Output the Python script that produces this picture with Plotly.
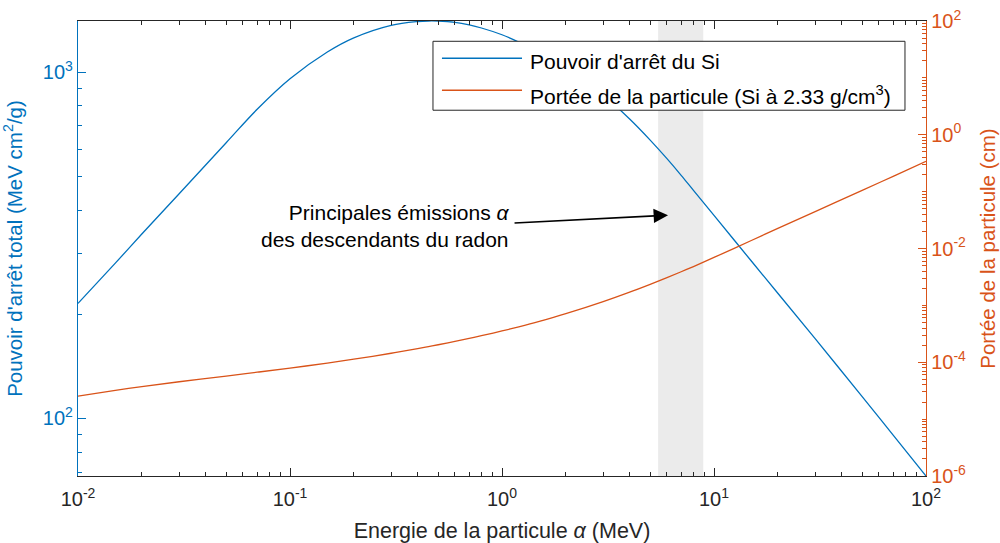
import plotly.graph_objects as go
import numpy as np

# ---------------- data ----------------
energy_mev = [0.01, 0.015, 0.02, 0.03, 0.05, 0.07, 0.1, 0.15, 0.2, 0.3, 0.4, 0.45, 0.5,
              0.6, 0.7, 0.8, 1.0, 1.2, 1.5, 2.0, 3.0, 4.0, 5.0, 6.0, 7.0, 8.0,
              10, 15, 20, 30, 50, 70, 100]
stopping_power = [215, 281, 341, 446, 626, 782, 958, 1145, 1258, 1367, 1402, 1407, 1406,
                  1394, 1371, 1343, 1284, 1223, 1141, 1026, 858, 733, 637, 563, 504, 456,
                  386, 285, 230, 170, 115.6, 89.5, 68.2]
range_cm = [2.54e-5, 3.21e-5, 3.73e-5, 4.54e-5, 5.72e-5, 6.68e-5, 7.90e-5, 9.66e-5, 1.131e-4, 1.439e-4,
            1.736e-4, 1.882e-4, 2.032e-4, 2.328e-4, 2.628e-4, 2.931e-4, 3.548e-4, 4.19e-4, 5.22e-4,
            7.13e-4, 1.163e-3, 1.707e-3, 2.346e-3, 3.075e-3, 3.90e-3, 4.82e-3, 6.96e-3, 1.383e-2,
            2.251e-2, 4.455e-2, 0.105, 0.186, 0.34]
radon_band_mev = [5.45, 8.9]

x_ticks = [1e-2, 1e-1, 1e0, 1e1, 1e2]
x_ticktext = ["10<sup>-2</sup>", "10<sup>-1</sup>", "10<sup>0</sup>", "10<sup>1</sup>", "10<sup>2</sup>"]
yl_ticks = [1e2, 1e3]
yl_ticktext = ["10<sup>2</sup>", "10<sup>3</sup>"]
yr_ticks = [1e-6, 1e-4, 1e-2, 1e0, 1e2]
yr_ticktext = ["10<sup>-6</sup>", "10<sup>-4</sup>", "10<sup>-2</sup>", "10<sup>0</sup>", "10<sup>2</sup>"]

series_names = ["Pouvoir d'arrêt du Si", "Portée de la particule (Si à 2.33 g/cm<sup>3</sup>)"]

BLUE = "#0072BD"
ORANGE = "#D95319"
DARK = "#262626"
FONT = "Liberation Sans, Arial, Helvetica, sans-serif"


def minor_vals(lo, hi, skip):
    vals = []
    for n in range(lo, hi):
        for k in range(1, 10):
            v = k * 10.0 ** n
            if not any(abs(v - s) / s < 1e-9 for s in skip):
                vals.append(v)
    return vals


fig = go.Figure()
fig.add_trace(go.Scatter(x=energy_mev, y=stopping_power, mode="lines",
                         line=dict(color=BLUE, width=1.3, shape="spline", smoothing=1.0),
                         name=series_names[0], yaxis="y", showlegend=False))
fig.add_trace(go.Scatter(x=energy_mev, y=range_cm, mode="lines",
                         line=dict(color=ORANGE, width=1.3, shape="spline", smoothing=1.0),
                         name=series_names[1], yaxis="y2", showlegend=False))

# grey band (radon progeny alpha emissions)
fig.add_shape(type="rect", xref="x", yref="paper", x0=radon_band_mev[0], x1=radon_band_mev[1],
              y0=0, y1=1, fillcolor="rgb(235,235,235)", line=dict(width=0), layer="below")

# legend box (drawn manually to mimic MATLAB legend)
fig.add_shape(type="rect", xref="paper", yref="paper", x0=0.4186, x1=0.9752, y0=0.8039, y1=0.9554,
              fillcolor="white", line=dict(color=DARK, width=1), layer="above")
fig.add_shape(type="line", xref="paper", yref="paper", x0=0.4292, x1=0.5236, y0=0.9181, y1=0.9181,
              line=dict(color=BLUE, width=1.3), layer="above")
fig.add_shape(type="line", xref="paper", yref="paper", x0=0.4292, x1=0.5236, y0=0.8478, y1=0.8478,
              line=dict(color=ORANGE, width=1.3), layer="above")
fig.add_annotation(xref="paper", yref="paper", x=0.5307, y=0.9115, text=series_names[0],
                   showarrow=False, xanchor="left", yanchor="middle",
                   font=dict(family=FONT, size=21, color="black"))
fig.add_annotation(xref="paper", yref="paper", x=0.5307, y=0.8379, text=series_names[1],
                   showarrow=False, xanchor="left", yanchor="middle",
                   font=dict(family=FONT, size=21, color="black"))

# text + arrow
fig.add_annotation(xref="paper", yref="paper", x=0.5118, y=0.5502,
                   text="Principales émissions <i>α</i><br>des descendants du radon",
                   showarrow=False, xanchor="right", yanchor="middle", align="right",
                   font=dict(family=FONT, size=21, color="black"))
fig.add_annotation(xref="paper", yref="paper", x=0.6958, y=0.5733, text="",
                   showarrow=True, ax=-155, ay=8, axref="pixel", ayref="pixel",
                   arrowhead=2, arrowsize=1.8, arrowwidth=1.6, arrowcolor="black")

s_log = np.log10(stopping_power)

fig.update_layout(
    width=1000, height=543,
    margin=dict(l=78, r=74, t=21, b=67, autoexpand=False),
    paper_bgcolor="white", plot_bgcolor="white",
    font=dict(family=FONT, size=20, color=DARK),
    xaxis=dict(type="log", range=[-2, 2], tickmode="array", tickvals=x_ticks, ticktext=x_ticktext,
               ticks="inside", ticklen=8, tickwidth=1, tickcolor=DARK, ticklabelstandoff=5,
               showline=True, linecolor=DARK, linewidth=1, mirror="ticks",
               showgrid=False, zeroline=False,
               minor=dict(tickmode="array", tickvals=minor_vals(-2, 2, x_ticks),
                          ticks="inside", ticklen=4, tickcolor=DARK, showgrid=False),
               tickfont=dict(size=20, color=DARK),
               title=dict(text="Energie de la particule <i>α</i> (MeV)", font=dict(size=21.5, color=DARK))),
    yaxis=dict(type="log", range=[float(s_log.min()), float(s_log.max())],
               tickmode="array", tickvals=yl_ticks, ticktext=yl_ticktext,
               ticks="inside", ticklen=8, tickwidth=1, tickcolor=BLUE,
               showline=True, linecolor=BLUE, linewidth=1.3, mirror=False,
               showgrid=False, zeroline=False,
               minor=dict(tickmode="array", tickvals=minor_vals(1, 4, yl_ticks),
                          ticks="inside", ticklen=4, tickcolor=BLUE, showgrid=False),
               tickfont=dict(size=20, color=BLUE),
               title=dict(text="Pouvoir d'arrêt total (MeV cm<sup>2</sup>/g)", font=dict(size=20.5, color=BLUE))),
    yaxis2=dict(type="log", range=[-6, 2], overlaying="y", side="right", anchor="x",
                tickmode="array", tickvals=yr_ticks, ticktext=yr_ticktext,
                ticks="inside", ticklen=8, tickwidth=1, tickcolor=ORANGE,
                showline=True, linecolor=ORANGE, linewidth=1.3,
                showgrid=False, zeroline=False,
                minor=dict(tickmode="array", tickvals=minor_vals(-6, 2, yr_ticks),
                           ticks="inside", ticklen=4, tickcolor=ORANGE, showgrid=False),
                tickfont=dict(size=20, color=ORANGE),
                title=dict(text="Portée de la particule (cm)", font=dict(size=20.5, color=ORANGE))),
    showlegend=False,
)

fig.write_html("out.html", config={"displayModeBar": False},
               post_script="document.body.style.margin='0';")
